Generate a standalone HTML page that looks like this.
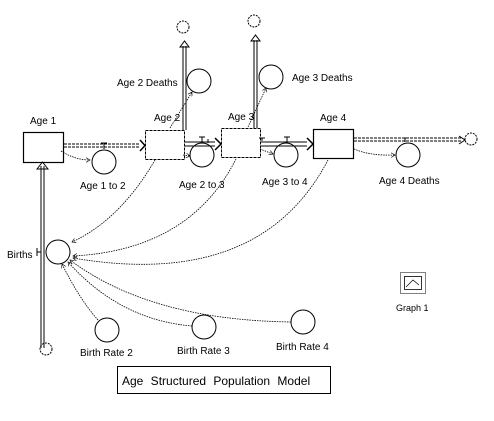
<!DOCTYPE html>
<html><head><style>
html,body{margin:0;padding:0;background:#fff;}
svg{display:block;font-family:"Liberation Sans",sans-serif;}
text{font-size:10px;fill:#000;}
</style></head><body>
<svg width="494" height="421" viewBox="0 0 494 421" xmlns="http://www.w3.org/2000/svg">
<defs>
<marker id="a" markerWidth="6" markerHeight="6" refX="5" refY="3" orient="auto"><path d="M0,0 L5,3 L0,6" fill="none" stroke="#000" stroke-width="0.8"/></marker>
</defs>
<g fill="none" stroke="#000">
<rect x="23.5" y="132.5" width="40" height="30" stroke-width="1.2"/>
<rect x="145.5" y="130.5" width="39" height="29" stroke-dasharray="3,1"/>
<rect x="221.5" y="128.5" width="39" height="29" stroke-dasharray="3,1"/>
<rect x="313.5" y="129.5" width="40" height="29" stroke-width="1.2"/>
<path d="M64,144 H140 M64,147 H140" stroke-dasharray="3,1"/>
<path d="M140,140 L145,145.5 L140,151" stroke-width="1.5"/>
<path d="M185,142 H215 M185,146 H215"/>
<path d="M215,138 L221,144 L215,150" stroke-width="1.5"/>
<path d="M261,142 H307 M261,146 H307"/>
<path d="M307,138 L313,144 L307,150" stroke-width="1.5"/>
<path d="M354,138 H462 M354,141 H462" stroke-dasharray="3,1"/>
<path d="M459,136 L465,140 L459,144"/>
<path d="M183,130 V46 M186,130 V46"/>
<path d="M180,47 L184.5,41 L189,47 Z"/>
<path d="M254,128 V40 M257,128 V40"/>
<path d="M251,41 L255.5,35 L260,41 Z"/>
<path d="M41,348 V166 M44,348 V166"/>
<path d="M37,169 L42.5,162 L48,169 Z"/>
<path d="M104,149 V143 M101,143 H107 M202,143 V137 M199,137 H205 M262,141 V138 M259,138 H265 M287,143 V137 M284,137 H290 M208,143 V139 M405,142 V138 M402,138 H408"/>
<circle cx="183" cy="27" r="6" stroke-dasharray="2,1"/>
<circle cx="254" cy="21" r="6" stroke-dasharray="2,1"/>
<circle cx="471" cy="139" r="6" stroke-dasharray="2,1"/>
<circle cx="46" cy="349" r="6" stroke-dasharray="2,1"/>
<circle cx="104" cy="162" r="12"/>
<circle cx="199" cy="81" r="12"/>
<circle cx="271" cy="77" r="12"/>
<circle cx="202" cy="155" r="12"/>
<circle cx="286" cy="155" r="12"/>
<circle cx="408" cy="155" r="12"/>
<circle cx="58" cy="252" r="12"/>
<circle cx="107" cy="330" r="12"/>
<circle cx="204" cy="327" r="12"/>
<circle cx="303" cy="322" r="12"/>
<g stroke-width="0.8" stroke-dasharray="1.5,1">
<path d="M61,151 Q75,160 90,160" marker-end="url(#a)"/>
<path d="M170,128 L192,92" marker-end="url(#a)"/>
<path d="M248,127 L266,88" marker-end="url(#a)"/>
<path d="M183,155 L190,156" marker-end="url(#a)"/>
<path d="M260,149 L273,154" marker-end="url(#a)"/>
<path d="M354,149 Q370,156 395,155" marker-end="url(#a)"/>
<path d="M155,160 Q120,220 72,242" marker-end="url(#a)"/>
<path d="M236,159 Q190,250 73,256" marker-end="url(#a)"/>
<path d="M328,160 Q260,290 73,258" marker-end="url(#a)"/>
<path d="M98,320 Q80,300 62,264" marker-end="url(#a)"/>
<path d="M192,326 Q120,320 68,262" marker-end="url(#a)"/>
<path d="M291,322 Q150,320 70,260" marker-end="url(#a)"/>
</g>
<path d="M37,248 V256 M37,252 H41"/>
<rect x="400.5" y="272.5" width="25" height="21" stroke-dasharray="1,1"/>
<rect x="404.5" y="276.5" width="17" height="13" stroke-width="0.8"/>
<path d="M406,287 L413,280 L419,285" stroke-width="0.7"/>
<rect x="117.5" y="366.5" width="213" height="27" stroke-width="1"/>
</g>
<text x="30" y="124">Age 1</text>
<text x="154" y="121">Age 2</text>
<text x="228" y="120">Age 3</text>
<text x="320" y="121">Age 4</text>
<text x="117" y="86">Age 2 Deaths</text>
<text x="292" y="81">Age 3 Deaths</text>
<text x="80" y="189">Age 1 to 2</text>
<text x="179" y="188">Age 2 to 3</text>
<text x="262" y="185">Age 3 to 4</text>
<text x="379" y="184">Age 4 Deaths</text>
<text x="7" y="258">Births</text>
<text x="80" y="356">Birth Rate 2</text>
<text x="177" y="354">Birth Rate 3</text>
<text x="276" y="350">Birth Rate 4</text>
<text x="396" y="311" style="font-size:9px">Graph 1</text>
<text x="122" y="385" style="font-size:12px;word-spacing:4px">Age Structured Population Model</text>
</svg>
</body></html>
